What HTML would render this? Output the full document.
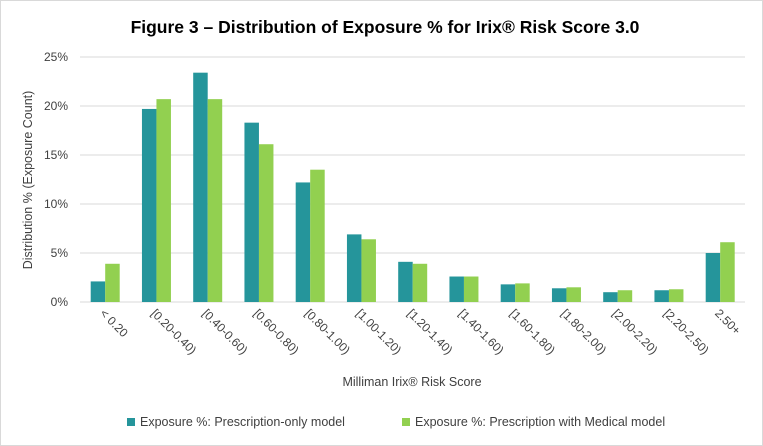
<!DOCTYPE html><html><head><style>body{margin:0;background:#fff}svg{display:block}text{font-family:"Liberation Sans",Calibri,sans-serif;fill:#404040}</style></head><body>
<svg width="763" height="446" xmlns="http://www.w3.org/2000/svg">
<rect x="0.5" y="0.5" width="762" height="445" fill="#fff" stroke="#d9d9d9"/>
<text x="385" y="33" text-anchor="middle" font-size="17.5" font-weight="bold" style="fill:#000">Figure 3 – Distribution of Exposure % for Irix® Risk Score 3.0</text>
<g stroke="#d9d9d9" stroke-width="1">
<line x1="80" x2="745" y1="57" y2="57"/><line x1="80" x2="745" y1="106" y2="106"/><line x1="80" x2="745" y1="155" y2="155"/><line x1="80" x2="745" y1="204" y2="204"/><line x1="80" x2="745" y1="253" y2="253"/><line x1="80" x2="745" y1="302" y2="302"/>
</g>
<g font-size="12" text-anchor="end">
<text x="68" y="61">25%</text><text x="68" y="110">20%</text><text x="68" y="159">15%</text><text x="68" y="208">10%</text><text x="68" y="257">5%</text><text x="68" y="306">0%</text>
</g>
<text transform="translate(32,180) rotate(-90)" text-anchor="middle" font-size="12.5">Distribution  % (Exposure Count)</text>
<g id="bars"></g>
<g id="labels" font-size="12"></g>
<text x="412" y="386" text-anchor="middle" font-size="12.5">Milliman Irix® Risk Score</text>
<rect x="127" y="418" width="8" height="8" fill="#25959b"/>
<text x="140" y="426" font-size="12.5">Exposure %: Prescription-only model</text>
<rect x="402" y="418" width="8" height="8" fill="#92d050"/>
<text x="415" y="426" font-size="12.5">Exposure %: Prescription with Medical model</text>
<script>
var a=[2.1,19.7,23.4,18.3,12.2,6.9,4.1,2.6,1.8,1.4,1.0,1.2,5.0],b=[3.9,20.7,20.7,16.1,13.5,6.4,3.9,2.6,1.9,1.5,1.2,1.3,6.1];
var L=["< 0.20","[0.20-0.40)","[0.40-0.60)","[0.60-0.80)","[0.80-1.00)","[1.00-1.20)","[1.20-1.40)","[1.40-1.60)","[1.60-1.80)","[1.80-2.00)","[2.00-2.20)","[2.20-2.50)","2.50+"];
var ns="http://www.w3.org/2000/svg",g=document.getElementById("bars"),lg=document.getElementById("labels");
for(var i=0;i<13;i++){var c=105.2+i*51.25;
[[a[i],c-14.5,"#25959b"],[b[i],c,"#92d050"]].forEach(function(p){var r=document.createElementNS(ns,"rect");var h=p[0]*9.8;r.setAttribute("x",p[1]);r.setAttribute("y",302-h);r.setAttribute("width",14.5);r.setAttribute("height",h);r.setAttribute("fill",p[2]);g.appendChild(r);});
var t=document.createElementNS(ns,"text");t.setAttribute("transform","translate("+(c-6)+",314) rotate(45)");t.textContent=L[i];lg.appendChild(t);}
</script>
</svg></body></html>
